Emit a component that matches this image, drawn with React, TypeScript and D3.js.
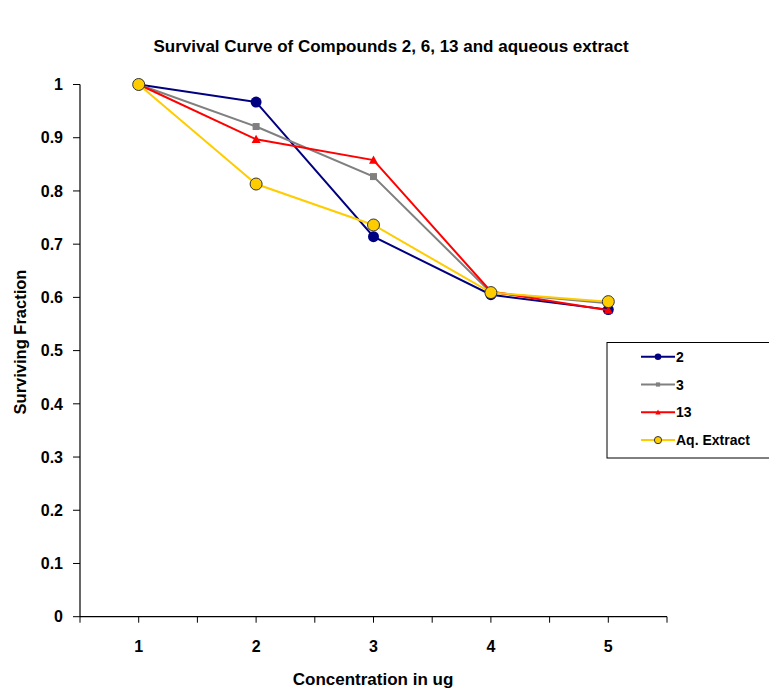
import React from "react";
import * as d3 from "d3";

const categories = ["1", "2", "3", "4", "5"];
const series2 = [1.0, 0.967, 0.714, 0.605, 0.577];
const series3 = [1.0, 0.921, 0.827, 0.609, 0.589];
const series13 = [1.0, 0.897, 0.858, 0.611, 0.576];
const seriesAq = [1.0, 0.813, 0.736, 0.609, 0.592];
const yTicks = [0, 0.1, 0.2, 0.3, 0.4, 0.5, 0.6, 0.7, 0.8, 0.9, 1];

const seriesList = [
  { name: "2", values: series2, color: "#000080", marker: "circle" },
  { name: "3", values: series3, color: "#808080", marker: "square" },
  { name: "13", values: series13, color: "#FF0000", marker: "triangle" },
  { name: "Aq. Extract", values: seriesAq, color: "#FFCC00", marker: "ring" },
];

const W = 769;
const H = 688;
const left = 80;
const right = 667;
const top = 84.5;
const bottom = 616.7;
const font = "Arial, 'Liberation Sans', sans-serif";

function Marker({ type, x, y, color, small }: any) {
  const k = small ? 0.6 : 1;
  if (type === "circle") return <circle cx={x} cy={y} r={5.5 * k} fill={color} />;
  if (type === "square") return <rect x={x - 3.5 * k} y={y - 3.5 * k} width={7 * k} height={7 * k} fill={color} />;
  if (type === "triangle") {
    const s = 4.5 * k;
    return <path d={`M${x},${y - s}L${x + s},${y + s * 0.8}L${x - s},${y + s * 0.8}Z`} fill={color} />;
  }
  return <circle cx={x} cy={y} r={6 * k} fill={color} stroke="#333" strokeWidth={1} />;
}

export default function App() {
  const x = d3.scaleBand().domain(categories).range([left, right]);
  const y = d3.scaleLinear().domain([0, 1]).range([bottom, top]);
  const cx = (c: string) => (x(c) as number) + x.bandwidth() / 2;
  const line = d3
    .line<number>()
    .x((_, i) => cx(categories[i]))
    .y((d) => y(d));

  const halfTicks: number[] = [];
  for (let i = 0; i <= categories.length * 2; i++) halfTicks.push(left + (i * x.bandwidth()) / 2);

  return (
    <svg width={W} height={H} style={{ position: "absolute", left: 0, top: 0 }}>
      <rect width={W} height={H} fill="#fff" />
      <text x={391} y={52} textAnchor="middle" fontFamily={font} fontWeight="bold" fontSize={17}>
        Survival Curve of Compounds 2, 6, 13 and aqueous extract
      </text>
      {/* y axis */}
      <line x1={left} x2={left} y1={top} y2={bottom} stroke="#000" strokeWidth={1.2} />
      {yTicks.map((t) => (
        <g key={t}>
          <line x1={left - 7} x2={left} y1={y(t)} y2={y(t)} stroke="#000" strokeWidth={1} />
          <text x={63} y={y(t)} dy="0.36em" textAnchor="end" fontFamily={font} fontWeight="bold" fontSize={16}>
            {d3.format("~g")(t)}
          </text>
        </g>
      ))}
      {/* x axis */}
      <line x1={left} x2={right} y1={bottom} y2={bottom} stroke="#000" strokeWidth={1.2} />
      {halfTicks.map((t, i) => (
        <line key={i} x1={t} x2={t} y1={bottom} y2={bottom + 6} stroke="#000" strokeWidth={1} />
      ))}
      {categories.map((c) => (
        <text key={c} x={cx(c)} y={652} textAnchor="middle" fontFamily={font} fontWeight="bold" fontSize={16}>
          {c}
        </text>
      ))}
      <text x={373} y={685} textAnchor="middle" fontFamily={font} fontWeight="bold" fontSize={17}>
        Concentration in ug
      </text>
      <text
        transform={`translate(26,342) rotate(-90)`}
        textAnchor="middle"
        fontFamily={font}
        fontWeight="bold"
        fontSize={16.5}
      >
        Surviving Fraction
      </text>
      {/* series */}
      {seriesList.map((s) => (
        <g key={s.name}>
          <path d={line(s.values) as string} fill="none" stroke={s.color} strokeWidth={2} />
          {s.values.map((v, i) => (
            <Marker key={i} type={s.marker} x={cx(categories[i])} y={y(v)} color={s.color} />
          ))}
        </g>
      ))}
      {/* legend */}
      <rect x={607} y={342.5} width={170} height={115.5} fill="#fff" stroke="#000" strokeWidth={1} />
      {seriesList.map((s, i) => {
        const ly = 356.7 + i * 27.8;
        return (
          <g key={s.name}>
            <line x1={641} x2={675} y1={ly} y2={ly} stroke={s.color} strokeWidth={2} />
            <Marker type={s.marker} x={658} y={ly} color={s.color} small />
            <text x={676} y={ly} dy="0.36em" fontFamily={font} fontWeight="bold" fontSize={14}>
              {s.name}
            </text>
          </g>
        );
      })}
    </svg>
  );
}
